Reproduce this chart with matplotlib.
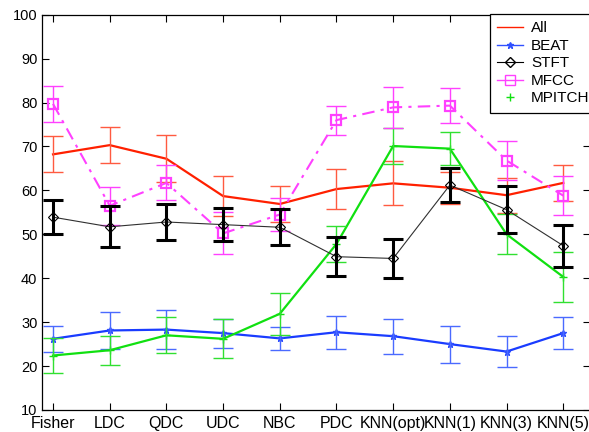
import numpy as np
import matplotlib
matplotlib.use("Agg")
import matplotlib.pyplot as plt
from matplotlib.lines import Line2D

# classifiers on the x axis
classifiers = ["Fisher", "LDC", "QDC", "UDC", "NBC", "PDC",
               "KNN(opt)", "KNN(1)", "KNN(3)", "KNN(5)"]

# mean accuracy per feature set
all_mean = [68.2, 70.3, 67.2, 58.7, 56.9, 60.3, 61.6, 60.6, 58.9, 61.7]
all_err = [4.1, 4.1, 5.3, 4.6, 4.1, 4.5, 5.0, 3.6, 4.0, 4.1]

beat_mean = [26.2, 28.1, 28.3, 27.5, 26.3, 27.7, 26.8, 25.0, 23.3, 27.5]
beat_err = [3.0, 4.2, 4.5, 3.3, 2.6, 3.8, 4.0, 4.2, 3.5, 3.6]

stft_mean = [53.9, 51.7, 52.8, 52.2, 51.6, 44.9, 44.5, 61.2, 55.6, 47.4]
stft_err = [3.8, 4.7, 4.0, 3.7, 4.1, 4.5, 4.5, 3.8, 5.3, 4.8]

mfcc_mean = [79.7, 56.5, 61.7, 50.2, 54.5, 76.0, 78.9, 79.3, 66.8, 58.8]
mfcc_err = [4.1, 4.3, 4.0, 4.8, 3.8, 3.3, 4.7, 3.9, 4.5, 4.5]

mpitch_mean = [22.4, 23.6, 27.0, 26.2, 31.9, 47.8, 70.1, 69.5, 50.0, 40.3]
mpitch_err = [3.9, 3.3, 4.1, 4.4, 4.8, 4.1, 4.0, 3.8, 4.6, 5.7]

plt.rcParams['font.family'] = ['Liberation Sans', 'DejaVu Sans']
plt.rcParams['font.size'] = 10

fig = plt.figure(figsize=(5.89, 4.32), dpi=100)
ax = fig.add_axes([0.0705, 0.051, 0.931, 0.915])

x = np.arange(1, len(classifiers) + 1)

# All
ax.plot(x, all_mean, color="#ff2000", lw=1.6, zorder=3)
ax.errorbar(x, all_mean, yerr=all_err, fmt="none", ecolor="#ff5a40",
            elinewidth=1.0, capsize=7, capthick=1.0, zorder=3)

# BEAT
ax.plot(x, beat_mean, color="#1a3cff", lw=1.6, marker="*", ms=5,
        mec="#3050ff", zorder=3)
ax.errorbar(x, beat_mean, yerr=beat_err, fmt="none", ecolor="#4a6aff",
            elinewidth=1.0, capsize=7, capthick=1.0, zorder=3)

# MPITCH
ax.plot(x, mpitch_mean, color="#10e010", lw=1.6, marker="+", ms=6,
        zorder=3)
ax.errorbar(x, mpitch_mean, yerr=mpitch_err, fmt="none", ecolor="#30e030",
            elinewidth=1.0, capsize=7, capthick=1.0, zorder=3)

# MFCC
ax.plot(x, mfcc_mean, color="#ff40ff", lw=1.5, ls=(0, (6, 3, 1.5, 3)),
        marker="s", ms=7.5, mfc="none", mec="#ff40ff", mew=1.6, zorder=4)
ax.errorbar(x, mfcc_mean, yerr=mfcc_err, fmt="none", ecolor="#ff40ff",
            elinewidth=1.0, capsize=7, capthick=1.0, zorder=4)

# STFT
ax.plot(x, stft_mean, color="#303030", lw=0.8, marker="D", ms=5,
        mfc="none", mec="black", mew=0.8, zorder=5)
ax.errorbar(x, stft_mean, yerr=stft_err, fmt="none", ecolor="black",
            elinewidth=2.2, capsize=7, capthick=2.2, zorder=5)

ax.set_xlim(0.797, 10.47)
ax.set_ylim(10, 100)
ax.set_xticks(x)
ax.set_xticklabels(classifiers, fontsize=11.5)
ax.set_yticks(np.arange(10, 101, 10))
ax.tick_params(direction="in", length=5, width=0.8, top=True, right=True,
               pad=3)
ax.tick_params(axis="y", labelsize=10.5)
ax.tick_params(axis="x", pad=4)
for s in ax.spines.values():
    s.set_linewidth(0.9)

handles = [
    Line2D([], [], color="#ff2000", lw=1.0),
    Line2D([], [], color="#3050ff", lw=1.0, marker="*", ms=5),
    Line2D([], [], color="black", lw=0.8, marker="D", ms=5, mfc="none"),
    Line2D([], [], color="#ff40ff", lw=1.0, marker="s", ms=7, mfc="none"),
    Line2D([], [], color="#10e010", ls="none", marker="+", ms=6),
]
leg = fig.legend(handles, ["All", "BEAT", "STFT", "MFCC", "MPITCH"],
                 loc="upper left", bbox_to_anchor=(490 / 589, 1 - 14 / 432),
                 fancybox=False, framealpha=1, edgecolor="black",
                 borderaxespad=0, handlelength=1.7, handletextpad=0.5,
                 labelspacing=0.23, borderpad=0.48, fontsize=11)
leg.get_frame().set_linewidth(0.9)

fig.savefig("out.png", dpi=100)
